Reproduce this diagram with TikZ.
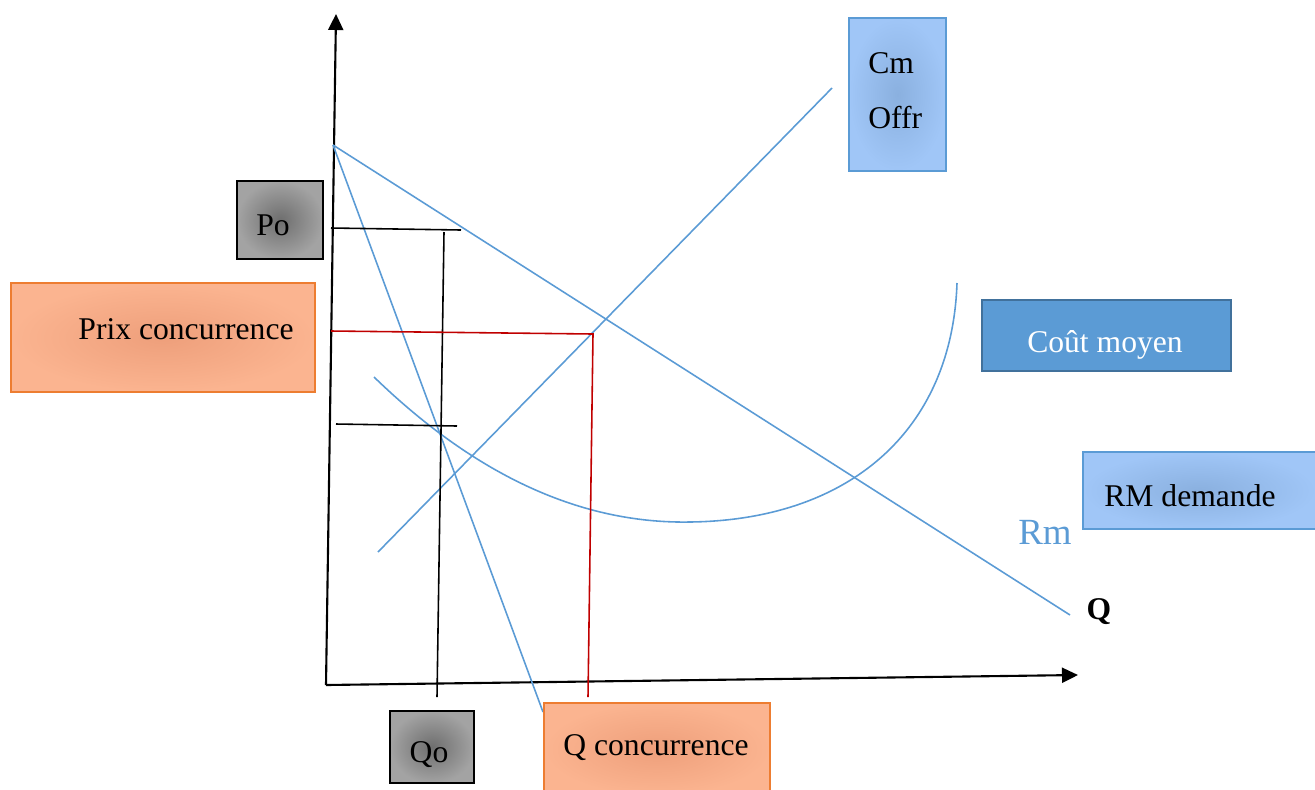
\documentclass[tikz,border=0pt]{standalone}
\usepackage{fontspec}
\setmainfont{Liberation Serif}
\usetikzlibrary{arrows.meta}
\definecolor{bl}{HTML}{5B9BD5}
\definecolor{bldark}{HTML}{41719C}
\definecolor{rd}{HTML}{C00000}
\definecolor{orb}{HTML}{ED7D31}
\definecolor{orin}{HTML}{EE9F7B}
\definecolor{orout}{HTML}{FBB490}
\definecolor{grin}{HTML}{6E6E6E}
\definecolor{grout}{HTML}{A3A3A3}
\definecolor{lbin}{HTML}{8AB0DF}
\definecolor{lbout}{HTML}{A0C6F7}
\tikzset{
  box/.style={rectangle, inner sep=0pt, anchor=north west},
  graybox/.style={box, draw=black, line width=1.3pt, inner color=grin, outer color=grout},
  orbox/.style={box, draw=orb, line width=1.2pt, inner color=orin, outer color=orout},
  lbbox/.style={box, draw=bl, line width=1.2pt, inner color=lbin, outer color=lbout},
  txt/.style={font=\fontsize{18}{20}\selectfont, inner sep=0pt},
  axis/.style={line width=1.2pt, -{Triangle[length=0.32cm,width=0.3cm]}},
  blline/.style={bl, line width=0.9pt},
  blkline/.style={black, line width=0.9pt},
  rdline/.style={rd, line width=0.9pt}
}
\begin{document}
\begin{tikzpicture}[x=0.02cm,y=-0.02cm]
\useasboundingbox (0,0) rectangle (1315,789);
% axes
\coordinate (O) at (326,685);
\coordinate (Ytop) at (336,14);
\coordinate (Xend) at (1078,675);
\draw[axis] (O) -- (Ytop);
\draw[axis] (O) -- (Xend);
% blue lines
\coordinate (A) at (333,145);
\coordinate (Dend) at (1070,615);
\coordinate (Mend) at (543,712);
\coordinate (S0) at (378,552);
\coordinate (S1) at (832,88);
\draw[blline] (A) -- (Dend);
\draw[blline] (A) -- (Mend);
\draw[blline] (S0) -- (S1);
\coordinate (C0) at (374,377);
\coordinate (Cmin) at (690,522);
\coordinate (C1) at (957,283);
\draw[blline] (C0) .. controls (470,470) and (575,524) .. (Cmin)
  .. controls (850,520) and (952,430) .. (C1);
% black lines
\coordinate (P0a) at (331,228);
\coordinate (P0b) at (461,230);
\coordinate (V0a) at (444,232);
\coordinate (V0b) at (437,697);
\coordinate (L0a) at (336,424);
\coordinate (L0b) at (457,426);
\draw[blkline] (P0a) -- (P0b);
\draw[blkline] (V0a) -- (V0b);
\draw[blkline] (L0a) -- (L0b);
% red lines
\coordinate (R0) at (331,331);
\coordinate (R1) at (593,334);
\coordinate (R2) at (588,697);
\draw[rdline] (R0) -- (R1) -- (R2);
% boxes
\node[graybox, minimum width=86*0.02cm, minimum height=78*0.02cm] (po) at (236,180) {};
\node[txt] (potxt) at (273,225) {Po};
\node[orbox, minimum width=304*0.02cm, minimum height=109*0.02cm] (prix) at (10,282) {};
\node[txt] (prixtxt) at (186,329) {Prix concurrence};
\node[lbbox, minimum width=97*0.02cm, minimum height=153*0.02cm] (cm) at (848,17) {};
\node[txt, anchor=west] (cmtxt) at (868,63) {Cm};
\node[txt, anchor=west] (offtxt) at (868,118) {Offr};
\node[box, draw=bldark, line width=1.2pt, fill=bl, minimum width=249*0.02cm, minimum height=71*0.02cm] (cmoy) at (981,299) {};
\node[txt, text=white] (cmoytxt) at (1105,345) {Coût moyen};
\node[lbbox, minimum width=233*0.02cm, minimum height=77*0.02cm] (rm) at (1082,451) {};
\node[txt] (rmtxt) at (1190,496) {RM demande};
\node[inner sep=0pt, text=bl, font=\fontsize{21}{24}\selectfont] (rmlab) at (1045,532) {Rm};
\node[txt, font=\fontsize{18}{20}\selectfont\bfseries] (qlab) at (1099,612) {Q};
\node[graybox, minimum width=84*0.02cm, minimum height=72*0.02cm] (qo) at (389,710) {};
\node[txt] (qotxt) at (429,755) {Qo};
\node[orbox, minimum width=226*0.02cm, minimum height=92*0.02cm] (qc) at (543,702) {};
\node[txt] (qctxt) at (656,748) {Q concurrence};
\end{tikzpicture}
\end{document}
